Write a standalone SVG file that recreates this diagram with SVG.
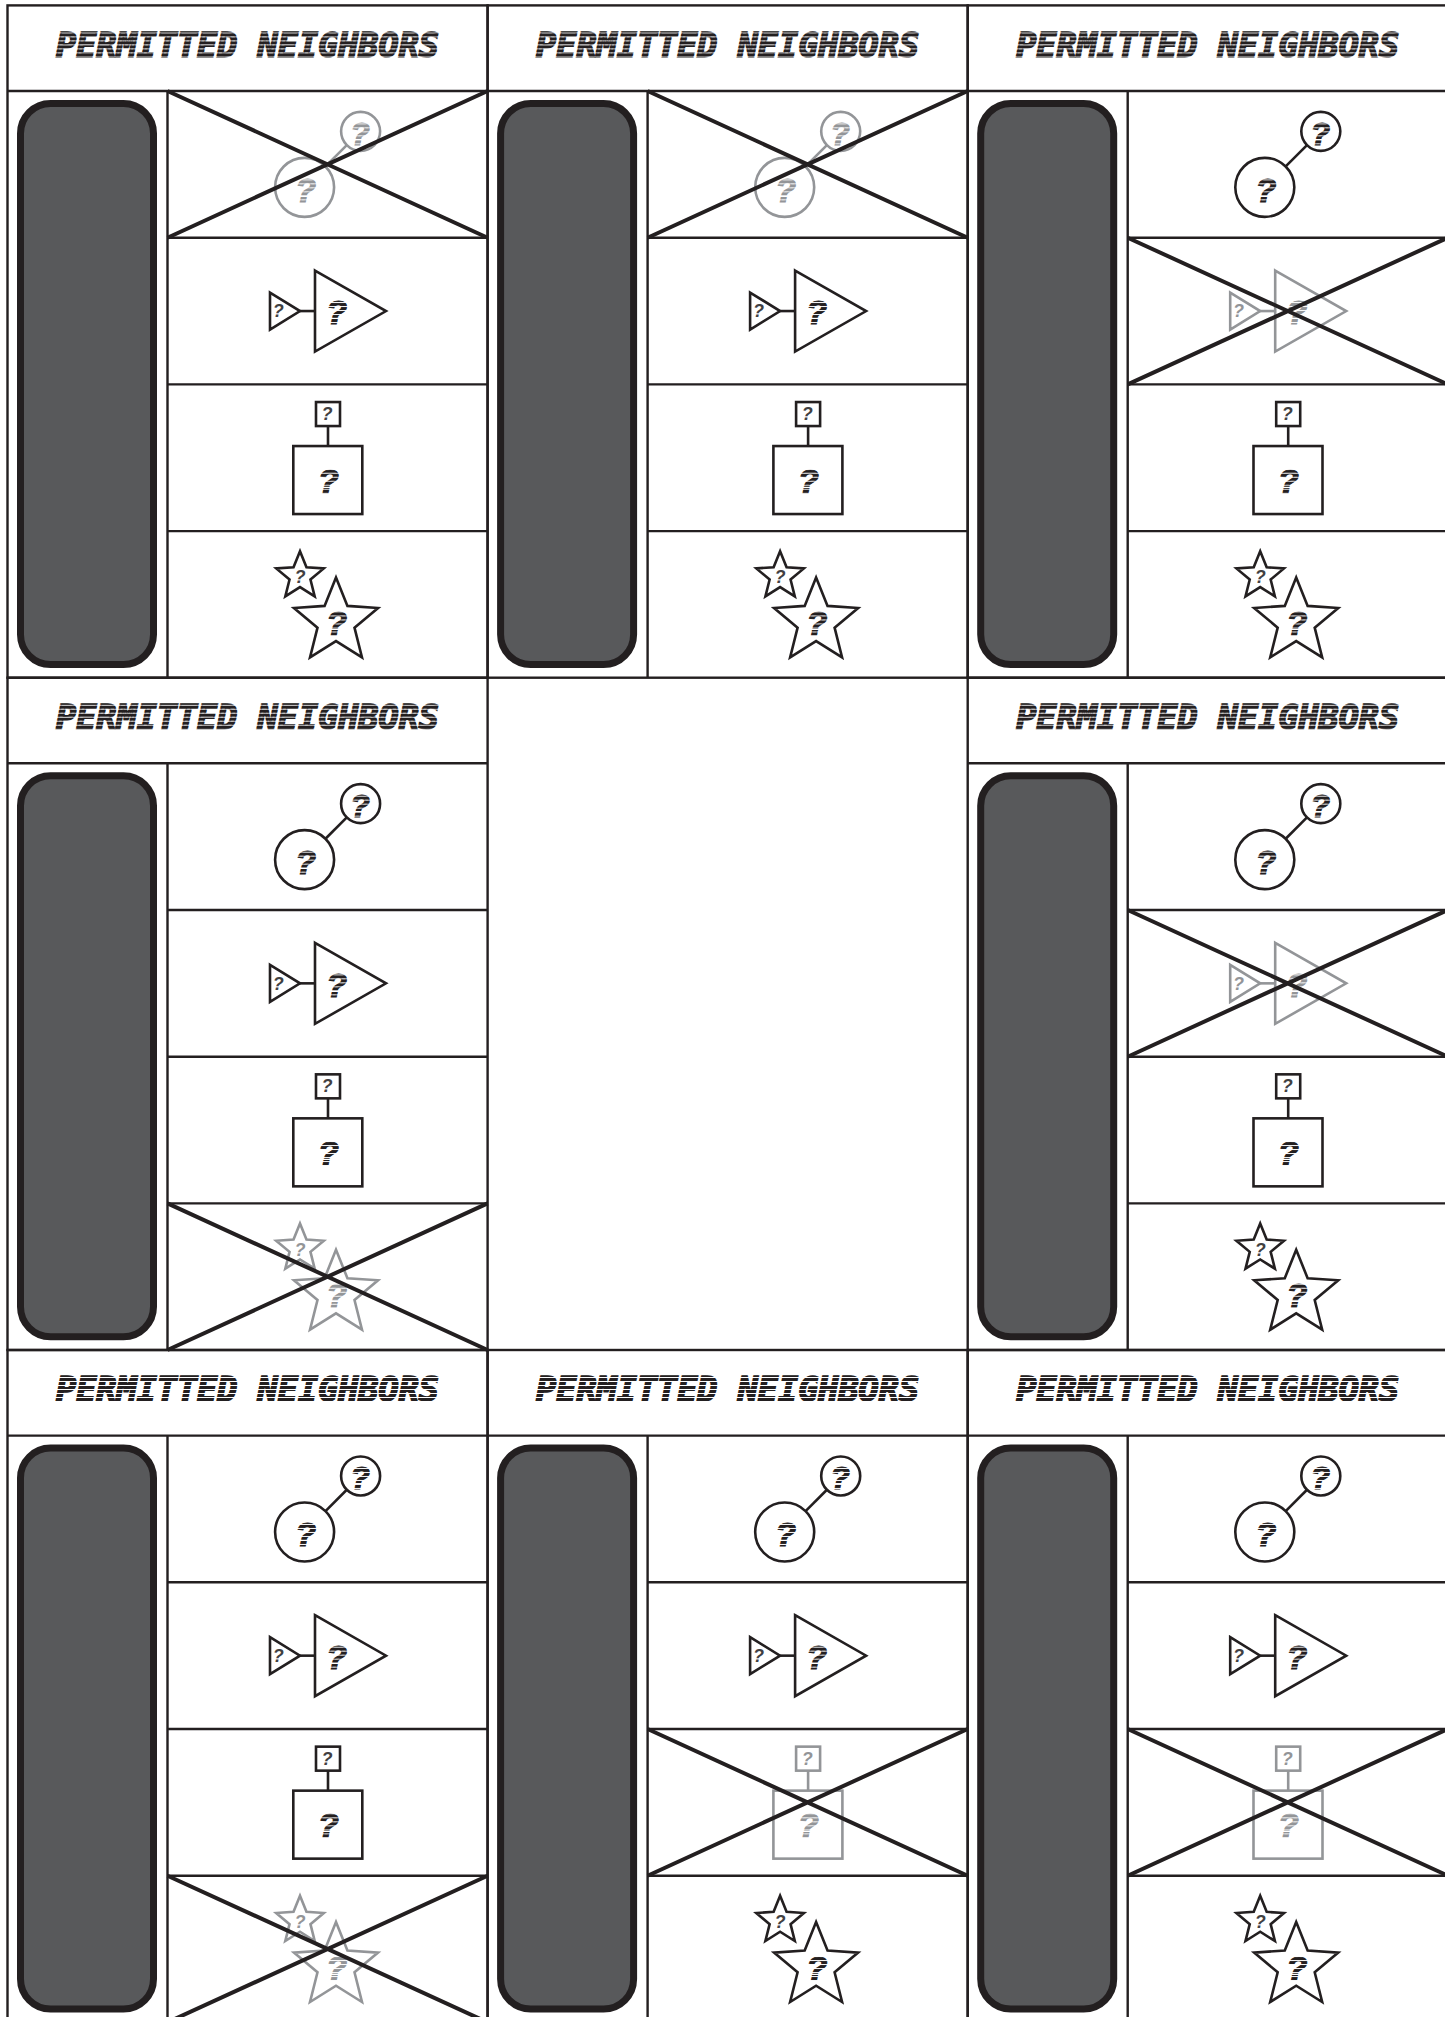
<svg xmlns="http://www.w3.org/2000/svg" width="1445" height="2017" viewBox="0 0 1445 2017">
<defs>
<pattern id="stD" width="8" height="4" patternUnits="userSpaceOnUse"><rect width="8" height="3" fill="#231f20"/></pattern>
<pattern id="stG" width="8" height="4" patternUnits="userSpaceOnUse"><rect width="8" height="3" fill="#939598"/></pattern>
<style>
.grid{stroke:#231f20;stroke-width:2.4;fill:none}
.slot{fill:#58595b;stroke:#231f20;stroke-width:7}
.hdr{font-family:"DejaVu Sans Mono",monospace;font-weight:bold;font-style:italic;font-size:33px;text-anchor:middle;fill:url(#stD);stroke:url(#stD);stroke-width:1.6}
.cell{stroke-width:2.6;fill:#fff}
.on{stroke:#231f20}
.off{stroke:#939598}
.cell text{stroke:none;font-family:"Liberation Sans","DejaVu Sans",sans-serif;font-weight:bold;font-style:italic;text-anchor:middle}
.qb{font-size:34px}
.qm{font-size:32px}
.qs{font-size:18px}
.on .qb,.on .qm{fill:url(#stD);stroke:url(#stD);stroke-width:1.2}
.off .qb,.off .qm{fill:url(#stG);stroke:url(#stG);stroke-width:1.2}
.on .qs{fill:#414042}
.off .qs{fill:#939598}
.xl{stroke:#231f20;stroke-width:4;fill:none}
</style>
</defs>
<rect width="1445" height="2017" fill="#fff"/>

<!-- Panel 1 -->
<g id="panel-1" transform="translate(7.5 5.4)">
<rect class="grid" x="0" y="0" width="480.1" height="672.3"/>
<text class="hdr" x="240" y="51.3" textLength="383" lengthAdjust="spacingAndGlyphs">PERMITTED NEIGHBORS</text>
<rect class="slot" x="13" y="98.1" width="133" height="561" rx="30"/>
<path class="grid" d="M0 85.6H480.1M160 85.6V672.3M160 232.3H480.1M160 379H480.1M160 525.7H480.1"/>
<g id="p1-circles" class="cell off" transform="translate(320.1 158.95)">
<line x1="-2.1" y1="2.1" x2="19.2" y2="-19.2"/><circle cx="-23" cy="23" r="29.5"/><circle cx="33" cy="-33" r="19.5"/>
<text class="qb" x="-22" y="37.2">?</text><text class="qm" x="32.4" y="-19.5">?</text></g>
<g id="p1-triangles" class="cell on" transform="translate(320.1 305.65)">
<line x1="-27.6" y1="0" x2="-12.6" y2="0"/><polygon points="-12.6,-40.5 58.4,0 -12.6,40.5"/><polygon points="-57.6,-18.5 -27.6,0 -57.6,18.5"/>
<text class="qb" x="9" y="13.3">?</text><text class="qs" x="-49.3" y="6.3">?</text></g>
<g id="p1-squares" class="cell on" transform="translate(320.1 452.35)">
<line x1="0.4" y1="-31.7" x2="0.4" y2="-11.7"/><rect x="-11.6" y="-55.7" width="24" height="24"/><rect x="-34.3" y="-11.7" width="69" height="68"/>
<text class="qs" x="-0.5" y="-37.7">?</text><text class="qb" x="0.7" y="35">?</text></g>
<g id="p1-stars" class="cell on" transform="translate(320.1 599.05)">
<polygon points="-27.6,-53.3 -21.13,-37.2 -3.82,-36.03 -17.14,-24.9 -12.91,-8.07 -27.6,-17.3 -42.29,-8.07 -38.06,-24.9 -51.38,-36.03 -34.07,-37.2"/>
<polygon points="8.4,-27 19.83,1.46 50.44,3.54 26.9,23.21 34.38,52.96 8.4,36.65 -17.58,52.96 -10.1,23.21 -33.64,3.54 -3.03,1.46"/>
<text class="qs" x="-27.6" y="-21">?</text><text class="qb" x="9.1" y="30.7">?</text></g>
<path class="xl" d="M160 85.6L480.1 232.3M160 232.3L480.1 85.6"/>
</g>

<!-- Panel 2 -->
<g id="panel-2" transform="translate(487.6 5.4)">
<rect class="grid" x="0" y="0" width="480.1" height="672.3"/>
<text class="hdr" x="240" y="51.3" textLength="383" lengthAdjust="spacingAndGlyphs">PERMITTED NEIGHBORS</text>
<rect class="slot" x="13" y="98.1" width="133" height="561" rx="30"/>
<path class="grid" d="M0 85.6H480.1M160 85.6V672.3M160 232.3H480.1M160 379H480.1M160 525.7H480.1"/>
<g id="p2-circles" class="cell off" transform="translate(320.1 158.95)">
<line x1="-2.1" y1="2.1" x2="19.2" y2="-19.2"/><circle cx="-23" cy="23" r="29.5"/><circle cx="33" cy="-33" r="19.5"/>
<text class="qb" x="-22" y="37.2">?</text><text class="qm" x="32.4" y="-19.5">?</text></g>
<g id="p2-triangles" class="cell on" transform="translate(320.1 305.65)">
<line x1="-27.6" y1="0" x2="-12.6" y2="0"/><polygon points="-12.6,-40.5 58.4,0 -12.6,40.5"/><polygon points="-57.6,-18.5 -27.6,0 -57.6,18.5"/>
<text class="qb" x="9" y="13.3">?</text><text class="qs" x="-49.3" y="6.3">?</text></g>
<g id="p2-squares" class="cell on" transform="translate(320.1 452.35)">
<line x1="0.4" y1="-31.7" x2="0.4" y2="-11.7"/><rect x="-11.6" y="-55.7" width="24" height="24"/><rect x="-34.3" y="-11.7" width="69" height="68"/>
<text class="qs" x="-0.5" y="-37.7">?</text><text class="qb" x="0.7" y="35">?</text></g>
<g id="p2-stars" class="cell on" transform="translate(320.1 599.05)">
<polygon points="-27.6,-53.3 -21.13,-37.2 -3.82,-36.03 -17.14,-24.9 -12.91,-8.07 -27.6,-17.3 -42.29,-8.07 -38.06,-24.9 -51.38,-36.03 -34.07,-37.2"/>
<polygon points="8.4,-27 19.83,1.46 50.44,3.54 26.9,23.21 34.38,52.96 8.4,36.65 -17.58,52.96 -10.1,23.21 -33.64,3.54 -3.03,1.46"/>
<text class="qs" x="-27.6" y="-21">?</text><text class="qb" x="9.1" y="30.7">?</text></g>
<path class="xl" d="M160 85.6L480.1 232.3M160 232.3L480.1 85.6"/>
</g>

<!-- Panel 3 -->
<g id="panel-3" transform="translate(967.7 5.4)">
<rect class="grid" x="0" y="0" width="480.1" height="672.3"/>
<text class="hdr" x="240" y="51.3" textLength="383" lengthAdjust="spacingAndGlyphs">PERMITTED NEIGHBORS</text>
<rect class="slot" x="13" y="98.1" width="133" height="561" rx="30"/>
<path class="grid" d="M0 85.6H480.1M160 85.6V672.3M160 232.3H480.1M160 379H480.1M160 525.7H480.1"/>
<g id="p3-circles" class="cell on" transform="translate(320.1 158.95)">
<line x1="-2.1" y1="2.1" x2="19.2" y2="-19.2"/><circle cx="-23" cy="23" r="29.5"/><circle cx="33" cy="-33" r="19.5"/>
<text class="qb" x="-22" y="37.2">?</text><text class="qm" x="32.4" y="-19.5">?</text></g>
<g id="p3-triangles" class="cell off" transform="translate(320.1 305.65)">
<line x1="-27.6" y1="0" x2="-12.6" y2="0"/><polygon points="-12.6,-40.5 58.4,0 -12.6,40.5"/><polygon points="-57.6,-18.5 -27.6,0 -57.6,18.5"/>
<text class="qb" x="9" y="13.3">?</text><text class="qs" x="-49.3" y="6.3">?</text></g>
<g id="p3-squares" class="cell on" transform="translate(320.1 452.35)">
<line x1="0.4" y1="-31.7" x2="0.4" y2="-11.7"/><rect x="-11.6" y="-55.7" width="24" height="24"/><rect x="-34.3" y="-11.7" width="69" height="68"/>
<text class="qs" x="-0.5" y="-37.7">?</text><text class="qb" x="0.7" y="35">?</text></g>
<g id="p3-stars" class="cell on" transform="translate(320.1 599.05)">
<polygon points="-27.6,-53.3 -21.13,-37.2 -3.82,-36.03 -17.14,-24.9 -12.91,-8.07 -27.6,-17.3 -42.29,-8.07 -38.06,-24.9 -51.38,-36.03 -34.07,-37.2"/>
<polygon points="8.4,-27 19.83,1.46 50.44,3.54 26.9,23.21 34.38,52.96 8.4,36.65 -17.58,52.96 -10.1,23.21 -33.64,3.54 -3.03,1.46"/>
<text class="qs" x="-27.6" y="-21">?</text><text class="qb" x="9.1" y="30.7">?</text></g>
<path class="xl" d="M160 232.3L480.1 379M160 379L480.1 232.3"/>
</g>

<!-- Panel 4 -->
<g id="panel-4" transform="translate(7.5 677.7)">
<rect class="grid" x="0" y="0" width="480.1" height="672.3"/>
<text class="hdr" x="240" y="51.3" textLength="383" lengthAdjust="spacingAndGlyphs">PERMITTED NEIGHBORS</text>
<rect class="slot" x="13" y="98.1" width="133" height="561" rx="30"/>
<path class="grid" d="M0 85.6H480.1M160 85.6V672.3M160 232.3H480.1M160 379H480.1M160 525.7H480.1"/>
<g id="p4-circles" class="cell on" transform="translate(320.1 158.95)">
<line x1="-2.1" y1="2.1" x2="19.2" y2="-19.2"/><circle cx="-23" cy="23" r="29.5"/><circle cx="33" cy="-33" r="19.5"/>
<text class="qb" x="-22" y="37.2">?</text><text class="qm" x="32.4" y="-19.5">?</text></g>
<g id="p4-triangles" class="cell on" transform="translate(320.1 305.65)">
<line x1="-27.6" y1="0" x2="-12.6" y2="0"/><polygon points="-12.6,-40.5 58.4,0 -12.6,40.5"/><polygon points="-57.6,-18.5 -27.6,0 -57.6,18.5"/>
<text class="qb" x="9" y="13.3">?</text><text class="qs" x="-49.3" y="6.3">?</text></g>
<g id="p4-squares" class="cell on" transform="translate(320.1 452.35)">
<line x1="0.4" y1="-31.7" x2="0.4" y2="-11.7"/><rect x="-11.6" y="-55.7" width="24" height="24"/><rect x="-34.3" y="-11.7" width="69" height="68"/>
<text class="qs" x="-0.5" y="-37.7">?</text><text class="qb" x="0.7" y="35">?</text></g>
<g id="p4-stars" class="cell off" transform="translate(320.1 599.05)">
<polygon points="-27.6,-53.3 -21.13,-37.2 -3.82,-36.03 -17.14,-24.9 -12.91,-8.07 -27.6,-17.3 -42.29,-8.07 -38.06,-24.9 -51.38,-36.03 -34.07,-37.2"/>
<polygon points="8.4,-27 19.83,1.46 50.44,3.54 26.9,23.21 34.38,52.96 8.4,36.65 -17.58,52.96 -10.1,23.21 -33.64,3.54 -3.03,1.46"/>
<text class="qs" x="-27.6" y="-21">?</text><text class="qb" x="9.1" y="30.7">?</text></g>
<path class="xl" d="M160 525.7L480.1 672.3M160 672.3L480.1 525.7"/>
</g>

<!-- Panel 6 -->
<g id="panel-6" transform="translate(967.7 677.7)">
<rect class="grid" x="0" y="0" width="480.1" height="672.3"/>
<text class="hdr" x="240" y="51.3" textLength="383" lengthAdjust="spacingAndGlyphs">PERMITTED NEIGHBORS</text>
<rect class="slot" x="13" y="98.1" width="133" height="561" rx="30"/>
<path class="grid" d="M0 85.6H480.1M160 85.6V672.3M160 232.3H480.1M160 379H480.1M160 525.7H480.1"/>
<g id="p6-circles" class="cell on" transform="translate(320.1 158.95)">
<line x1="-2.1" y1="2.1" x2="19.2" y2="-19.2"/><circle cx="-23" cy="23" r="29.5"/><circle cx="33" cy="-33" r="19.5"/>
<text class="qb" x="-22" y="37.2">?</text><text class="qm" x="32.4" y="-19.5">?</text></g>
<g id="p6-triangles" class="cell off" transform="translate(320.1 305.65)">
<line x1="-27.6" y1="0" x2="-12.6" y2="0"/><polygon points="-12.6,-40.5 58.4,0 -12.6,40.5"/><polygon points="-57.6,-18.5 -27.6,0 -57.6,18.5"/>
<text class="qb" x="9" y="13.3">?</text><text class="qs" x="-49.3" y="6.3">?</text></g>
<g id="p6-squares" class="cell on" transform="translate(320.1 452.35)">
<line x1="0.4" y1="-31.7" x2="0.4" y2="-11.7"/><rect x="-11.6" y="-55.7" width="24" height="24"/><rect x="-34.3" y="-11.7" width="69" height="68"/>
<text class="qs" x="-0.5" y="-37.7">?</text><text class="qb" x="0.7" y="35">?</text></g>
<g id="p6-stars" class="cell on" transform="translate(320.1 599.05)">
<polygon points="-27.6,-53.3 -21.13,-37.2 -3.82,-36.03 -17.14,-24.9 -12.91,-8.07 -27.6,-17.3 -42.29,-8.07 -38.06,-24.9 -51.38,-36.03 -34.07,-37.2"/>
<polygon points="8.4,-27 19.83,1.46 50.44,3.54 26.9,23.21 34.38,52.96 8.4,36.65 -17.58,52.96 -10.1,23.21 -33.64,3.54 -3.03,1.46"/>
<text class="qs" x="-27.6" y="-21">?</text><text class="qb" x="9.1" y="30.7">?</text></g>
<path class="xl" d="M160 232.3L480.1 379M160 379L480.1 232.3"/>
</g>

<!-- Panel 7 -->
<g id="panel-7" transform="translate(7.5 1350)">
<rect class="grid" x="0" y="0" width="480.1" height="672.3"/>
<text class="hdr" x="240" y="51.3" textLength="383" lengthAdjust="spacingAndGlyphs">PERMITTED NEIGHBORS</text>
<rect class="slot" x="13" y="98.1" width="133" height="561" rx="30"/>
<path class="grid" d="M0 85.6H480.1M160 85.6V672.3M160 232.3H480.1M160 379H480.1M160 525.7H480.1"/>
<g id="p7-circles" class="cell on" transform="translate(320.1 158.95)">
<line x1="-2.1" y1="2.1" x2="19.2" y2="-19.2"/><circle cx="-23" cy="23" r="29.5"/><circle cx="33" cy="-33" r="19.5"/>
<text class="qb" x="-22" y="37.2">?</text><text class="qm" x="32.4" y="-19.5">?</text></g>
<g id="p7-triangles" class="cell on" transform="translate(320.1 305.65)">
<line x1="-27.6" y1="0" x2="-12.6" y2="0"/><polygon points="-12.6,-40.5 58.4,0 -12.6,40.5"/><polygon points="-57.6,-18.5 -27.6,0 -57.6,18.5"/>
<text class="qb" x="9" y="13.3">?</text><text class="qs" x="-49.3" y="6.3">?</text></g>
<g id="p7-squares" class="cell on" transform="translate(320.1 452.35)">
<line x1="0.4" y1="-31.7" x2="0.4" y2="-11.7"/><rect x="-11.6" y="-55.7" width="24" height="24"/><rect x="-34.3" y="-11.7" width="69" height="68"/>
<text class="qs" x="-0.5" y="-37.7">?</text><text class="qb" x="0.7" y="35">?</text></g>
<g id="p7-stars" class="cell off" transform="translate(320.1 599.05)">
<polygon points="-27.6,-53.3 -21.13,-37.2 -3.82,-36.03 -17.14,-24.9 -12.91,-8.07 -27.6,-17.3 -42.29,-8.07 -38.06,-24.9 -51.38,-36.03 -34.07,-37.2"/>
<polygon points="8.4,-27 19.83,1.46 50.44,3.54 26.9,23.21 34.38,52.96 8.4,36.65 -17.58,52.96 -10.1,23.21 -33.64,3.54 -3.03,1.46"/>
<text class="qs" x="-27.6" y="-21">?</text><text class="qb" x="9.1" y="30.7">?</text></g>
<path class="xl" d="M160 525.7L480.1 672.3M160 672.3L480.1 525.7"/>
</g>

<!-- Panel 8 -->
<g id="panel-8" transform="translate(487.6 1350)">
<rect class="grid" x="0" y="0" width="480.1" height="672.3"/>
<text class="hdr" x="240" y="51.3" textLength="383" lengthAdjust="spacingAndGlyphs">PERMITTED NEIGHBORS</text>
<rect class="slot" x="13" y="98.1" width="133" height="561" rx="30"/>
<path class="grid" d="M0 85.6H480.1M160 85.6V672.3M160 232.3H480.1M160 379H480.1M160 525.7H480.1"/>
<g id="p8-circles" class="cell on" transform="translate(320.1 158.95)">
<line x1="-2.1" y1="2.1" x2="19.2" y2="-19.2"/><circle cx="-23" cy="23" r="29.5"/><circle cx="33" cy="-33" r="19.5"/>
<text class="qb" x="-22" y="37.2">?</text><text class="qm" x="32.4" y="-19.5">?</text></g>
<g id="p8-triangles" class="cell on" transform="translate(320.1 305.65)">
<line x1="-27.6" y1="0" x2="-12.6" y2="0"/><polygon points="-12.6,-40.5 58.4,0 -12.6,40.5"/><polygon points="-57.6,-18.5 -27.6,0 -57.6,18.5"/>
<text class="qb" x="9" y="13.3">?</text><text class="qs" x="-49.3" y="6.3">?</text></g>
<g id="p8-squares" class="cell off" transform="translate(320.1 452.35)">
<line x1="0.4" y1="-31.7" x2="0.4" y2="-11.7"/><rect x="-11.6" y="-55.7" width="24" height="24"/><rect x="-34.3" y="-11.7" width="69" height="68"/>
<text class="qs" x="-0.5" y="-37.7">?</text><text class="qb" x="0.7" y="35">?</text></g>
<g id="p8-stars" class="cell on" transform="translate(320.1 599.05)">
<polygon points="-27.6,-53.3 -21.13,-37.2 -3.82,-36.03 -17.14,-24.9 -12.91,-8.07 -27.6,-17.3 -42.29,-8.07 -38.06,-24.9 -51.38,-36.03 -34.07,-37.2"/>
<polygon points="8.4,-27 19.83,1.46 50.44,3.54 26.9,23.21 34.38,52.96 8.4,36.65 -17.58,52.96 -10.1,23.21 -33.64,3.54 -3.03,1.46"/>
<text class="qs" x="-27.6" y="-21">?</text><text class="qb" x="9.1" y="30.7">?</text></g>
<path class="xl" d="M160 379L480.1 525.7M160 525.7L480.1 379"/>
</g>

<!-- Panel 9 -->
<g id="panel-9" transform="translate(967.7 1350)">
<rect class="grid" x="0" y="0" width="480.1" height="672.3"/>
<text class="hdr" x="240" y="51.3" textLength="383" lengthAdjust="spacingAndGlyphs">PERMITTED NEIGHBORS</text>
<rect class="slot" x="13" y="98.1" width="133" height="561" rx="30"/>
<path class="grid" d="M0 85.6H480.1M160 85.6V672.3M160 232.3H480.1M160 379H480.1M160 525.7H480.1"/>
<g id="p9-circles" class="cell on" transform="translate(320.1 158.95)">
<line x1="-2.1" y1="2.1" x2="19.2" y2="-19.2"/><circle cx="-23" cy="23" r="29.5"/><circle cx="33" cy="-33" r="19.5"/>
<text class="qb" x="-22" y="37.2">?</text><text class="qm" x="32.4" y="-19.5">?</text></g>
<g id="p9-triangles" class="cell on" transform="translate(320.1 305.65)">
<line x1="-27.6" y1="0" x2="-12.6" y2="0"/><polygon points="-12.6,-40.5 58.4,0 -12.6,40.5"/><polygon points="-57.6,-18.5 -27.6,0 -57.6,18.5"/>
<text class="qb" x="9" y="13.3">?</text><text class="qs" x="-49.3" y="6.3">?</text></g>
<g id="p9-squares" class="cell off" transform="translate(320.1 452.35)">
<line x1="0.4" y1="-31.7" x2="0.4" y2="-11.7"/><rect x="-11.6" y="-55.7" width="24" height="24"/><rect x="-34.3" y="-11.7" width="69" height="68"/>
<text class="qs" x="-0.5" y="-37.7">?</text><text class="qb" x="0.7" y="35">?</text></g>
<g id="p9-stars" class="cell on" transform="translate(320.1 599.05)">
<polygon points="-27.6,-53.3 -21.13,-37.2 -3.82,-36.03 -17.14,-24.9 -12.91,-8.07 -27.6,-17.3 -42.29,-8.07 -38.06,-24.9 -51.38,-36.03 -34.07,-37.2"/>
<polygon points="8.4,-27 19.83,1.46 50.44,3.54 26.9,23.21 34.38,52.96 8.4,36.65 -17.58,52.96 -10.1,23.21 -33.64,3.54 -3.03,1.46"/>
<text class="qs" x="-27.6" y="-21">?</text><text class="qb" x="9.1" y="30.7">?</text></g>
<path class="xl" d="M160 379L480.1 525.7M160 525.7L480.1 379"/>
</g>
</svg>
